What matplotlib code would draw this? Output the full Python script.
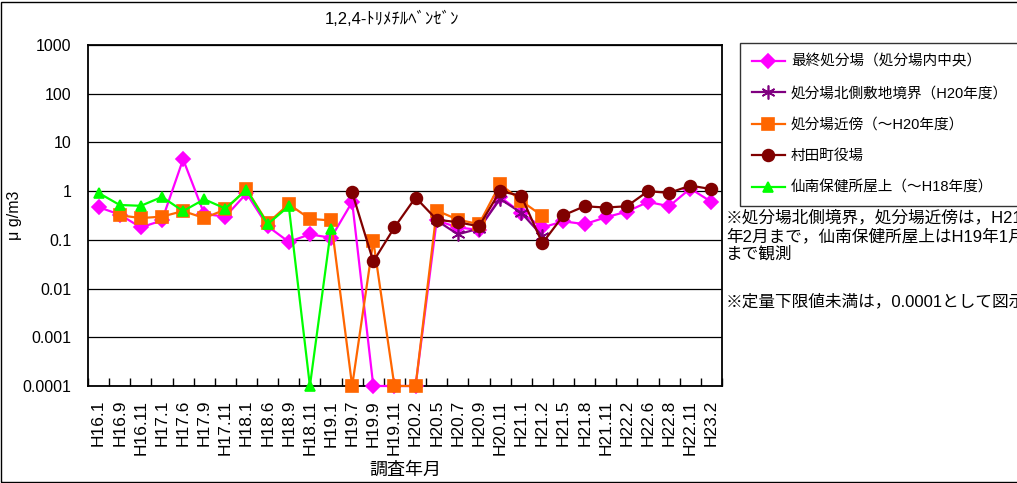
import numpy as np
import matplotlib
matplotlib.use('Agg')
import matplotlib.pyplot as plt
from matplotlib.patches import Rectangle

plt.rcParams['font.family'] = ['Liberation Sans', 'Noto Sans CJK JP', 'DejaVu Sans']

nan = np.nan

# 調査年月
cats = ['H16.1', 'H16.9', 'H16.11', 'H17.1', 'H17.6', 'H17.9', 'H17.11', 'H18.1', 'H18.6', 'H18.9',
        'H18.11', 'H19.1', 'H19.7', 'H19.9', 'H19.11', 'H20.2', 'H20.5', 'H20.7', 'H20.9', 'H20.11',
        'H21.1', 'H21.2', 'H21.5', 'H21.8', 'H21.11', 'H22.2', 'H22.6', 'H22.8', 'H22.11', 'H23.2']

# 最終処分場（処分場内中央）
saishu = [0.47, 0.33, 0.18, 0.25, 4.5, 0.34, 0.30, 0.9, 0.19, 0.091,
          0.13, 0.11, 0.6, 0.0001, 0.0001, 0.0001, 0.25, 0.18, 0.16, 0.76,
          0.36, 0.18, 0.24, 0.21, 0.29, 0.38, 0.6, 0.49, 1.13, 0.6]
# 処分場北側敷地境界（H20年度）
kitagawa = [nan] * 16 + [0.25, 0.13, 0.17, 0.69, 0.36, 0.12] + [nan] * 8
# 処分場近傍（～H20年度）
kinbo = [nan, 0.32, 0.28, 0.30, 0.39, 0.28, 0.42, 1.1, 0.22, 0.54,
         0.27, 0.25, 0.0001, 0.095, 0.0001, 0.0001, 0.40, 0.26, 0.21, 1.4,
         0.63, 0.31] + [nan] * 8
# 村田町役場
yakuba = [nan] * 12 + [0.94, 0.036, 0.18, 0.74, 0.26, 0.23, 0.19, 1.0,
                       0.80, 0.085, 0.32, 0.49, 0.46, 0.49, 1.0, 0.92, 1.3, 1.1]
# 仙南保健所屋上（～H18年度）
hokenjo = [0.92, 0.52, 0.50, 0.76, 0.39, 0.68, 0.44, 1.07, 0.21, 0.49,
           0.0001, 0.17] + [nan] * 18

yticks = [0.0001, 0.001, 0.01, 0.1, 1, 10, 100, 1000]
ytick_labels = ['0.0001', '0.001', '0.01', '0.1', '1', '10', '100', '1000']

W, H = 1017, 483
fig = plt.figure(figsize=(W / 100, H / 100), dpi=100)
ax = fig.add_axes([88 / W, 1 - 386 / H, (722 - 88) / W, (386 - 45) / H])

x = np.arange(len(cats))
series = [
    (saishu, '最終処分場（処分場内中央）', '#FF00FF', 'D', 7, 'none'),
    (kitagawa, '処分場北側敷地境界（H20年度）', '#800080', (6, 2, 0), 10, '#800080'),
    (kinbo, '処分場近傍（～H20年度）', '#FF6600', 's', 8.5, 'none'),
    (yakuba, '村田町役場', '#800000', 'o', 8.5, 'none'),
    (hokenjo, '仙南保健所屋上（～H18年度）', '#00FF00', '^', 7.5, 'none'),
]
for vals, label, col, mk, ms, mec in series:
    mec = col if mec == 'none' else mec
    ax.plot(x, vals, color=col, lw=1.6, marker=mk, markersize=ms,
            markerfacecolor=col, markeredgecolor=mec, markeredgewidth=1.2,
            label=label, clip_on=False, zorder=3)

ax.set_yscale('log')
ax.set_ylim(0.0001, 1000)
ax.set_yticks(yticks)
ax.set_yticklabels(ytick_labels, fontsize=11.5)
ax.yaxis.set_minor_locator(matplotlib.ticker.NullLocator())
ax.tick_params(axis='y', length=0, pad=12)
ax.grid(axis='y', color='black', lw=0.9)
ax.set_axisbelow(True)

ax.set_xlim(-0.5, len(cats) - 0.5)
ax.set_xticks(x)
ax.set_xticklabels(cats, rotation=90, fontsize=12.5)
ax.set_xticks(np.arange(len(cats) + 1) - 0.5, minor=True)
ax.tick_params(axis='x', which='major', length=0, pad=10)
ax.tick_params(axis='x', which='minor', direction='in', length=6, width=1)

for s in ax.spines.values():
    s.set_linewidth(1.3)
    s.set_color('black')

ax.set_xlabel('調査年月', fontsize=13, labelpad=5)
fig.text(15 / W, 1 - 215 / H, 'μ g/m3', rotation=90, fontsize=11.5, ha='center', va='center')
fig.text(392 / W, 1 - 19 / H, '1,2,4-ﾄﾘﾒﾁﾙﾍﾞﾝｾﾞﾝ', fontsize=12, ha='center', va='center')

leg = fig.legend(loc='upper left', bbox_to_anchor=(740 / W, 1 - 43 / H), borderaxespad=0,
                 fontsize=10.5, frameon=True, fancybox=False, handlelength=2.3,
                 labelspacing=1.2, borderpad=0.8, handletextpad=0.4)
leg.get_frame().set_edgecolor('black')
leg.get_frame().set_linewidth(1.0)

# notes (the reference chart also runs them past its right edge)
note1 = '※処分場北側境界，処分場近傍は，H21\n年2月まで，仙南保健所屋上はH19年1月\nまで観測'
note2 = '※定量下限値未満は，0.0001として図示'
fig.text(726 / W, 1 - 210 / H, note1, fontsize=12, ha='left', va='top', linespacing=1.2)
fig.text(726 / W, 1 - 294 / H, note2, fontsize=12, ha='left', va='top')

# chart outer frame
fig.patches.append(Rectangle((1 / W, 1 / H), 1.2, 1 - 3 / H, transform=fig.transFigure,
                             fill=False, edgecolor='black', lw=1.0))

fig.savefig('out.png', dpi=100)
